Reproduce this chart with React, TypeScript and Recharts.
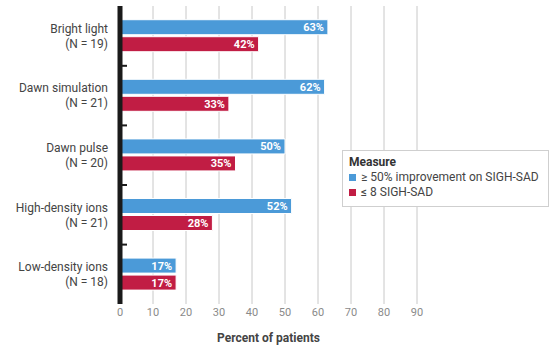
import { Bar, BarChart, CartesianGrid, LabelList, XAxis, YAxis } from "recharts";

const groups = ["Bright light", "Dawn simulation", "Dawn pulse", "High-density ions", "Low-density ions"];
const groupN = [19, 21, 20, 21, 18];
const improvement = [63, 62, 50, 52, 17];
const remission = [42, 33, 35, 28, 17];
const xTicks = [0, 10, 20, 30, 40, 50, 60, 70, 80, 90];
const legendTitle = "Measure";
const seriesNames = ["≥ 50% improvement on SIGH-SAD", "≤ 8 SIGH-SAD"];

const BLUE = "#4b9ad8";
const RED = "#c11d44";
const FONT = "'Liberation Sans Narrow', 'Roboto', sans-serif";

const data = groups.map((g, i) => ({
  name: g,
  n: groupN[i],
  improvement: improvement[i],
  remission: remission[i],
}));

function GroupTick(props: any) {
  const { x, y, payload, index } = props;
  const n = groupN[index];
  return (
    <g>
      <text x={x - 4} y={y - 7} textAnchor="end" dominantBaseline="central" fontSize={12} fill="#444" fontFamily={FONT}>
        {payload.value}
      </text>
      <text x={x - 4} y={y + 8} textAnchor="end" dominantBaseline="central" fontSize={12} fill="#444" fontFamily={FONT}>
        {`(N = ${n})`}
      </text>
      {index < groups.length - 1 && (
        <line x1={x + 10} x2={x + 15} y1={y + 30} y2={y + 30} stroke="#1a1a1a" strokeWidth={2} />
      )}
    </g>
  );
}

function LegendBox() {
  const colors = [BLUE, RED];
  return (
    <div
      style={{
        position: "absolute",
        left: 342,
        top: 150,
        border: "1px solid #cfcfcf",
        background: "#fff",
        padding: "4px 6px 6px 6px",
        width: 193,
        fontFamily: FONT,
        fontSize: 12,
        color: "#444",
        lineHeight: "15px",
      }}
    >
      <div style={{ fontWeight: "bold", color: "#333" }}>{legendTitle}</div>
      {seriesNames.map((s, i) => (
        <div key={s} style={{ display: "flex", alignItems: "center" }}>
          <span style={{ width: 7, height: 7, background: colors[i], display: "inline-block", marginRight: 5 }} />
          {s}
        </div>
      ))}
    </div>
  );
}

export default function App() {
  return (
    <div style={{ position: "absolute", left: 0, top: 0, width: 553, height: 350, background: "#fff" }}>
      <BarChart
        width={553}
        height={350}
        data={data}
        layout="vertical"
        margin={{ top: 6, right: 136, left: 0, bottom: 0 }}
        barCategoryGap="23%"
        barGap={2}
      >
        <CartesianGrid horizontal={false} stroke="#c8c8c8" strokeWidth={1} />
        <XAxis
          type="number"
          domain={[0, 90]}
          ticks={xTicks}
          tickLine={false}
          axisLine={false}
          tickSize={0}
          tickMargin={4}
          height={46}
          tick={{ fontSize: 11, fill: "#8a8a8a", fontFamily: FONT }}
          label={{
            value: "Percent of patients",
            position: "insideBottom",
            offset: 8,
            fontSize: 12,
            fontWeight: "bold",
            fill: "#444",
            fontFamily: FONT,
          }}
        />
        <YAxis
          type="category"
          dataKey="name"
          width={120}
          tickLine={false}
          tickSize={0}
          tickMargin={8}
          axisLine={{ stroke: "#1a1a1a", strokeWidth: 5 }}
          tick={<GroupTick />}
        />
        <Bar dataKey="improvement" name={seriesNames[0]} fill={BLUE} stroke="#fff" strokeWidth={1} isAnimationActive={false}>
          <LabelList
            dataKey="improvement"
            position="insideRight"
            offset={4}
            formatter={(v: any) => `${v}%`}
            style={{ fill: "#fff", fontSize: 11, fontWeight: "bold", fontFamily: FONT }}
          />
        </Bar>
        <Bar dataKey="remission" name={seriesNames[1]} fill={RED} stroke="#fff" strokeWidth={1} isAnimationActive={false}>
          <LabelList
            dataKey="remission"
            position="insideRight"
            offset={4}
            formatter={(v: any) => `${v}%`}
            style={{ fill: "#fff", fontSize: 11, fontWeight: "bold", fontFamily: FONT }}
          />
        </Bar>
      </BarChart>
      <LegendBox />
    </div>
  );
}
